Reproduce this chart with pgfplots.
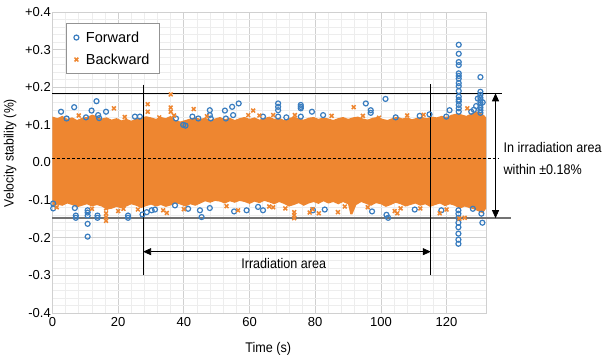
\documentclass[border=0pt]{standalone}
\usepackage{pgfplots}
\pgfplotsset{compat=1.18}
\usetikzlibrary{arrows.meta}
\usepackage{fontspec}
\setmainfont{Liberation Sans}
\newfontfamily\cond[FakeStretch=0.9]{Liberation Sans}
\definecolor{fwd}{HTML}{3A7DBF}
\definecolor{bwd}{HTML}{EE8630}
\definecolor{majgrid}{HTML}{D0D0D0}
\definecolor{mingrid}{HTML}{EDEDED}
\begin{document}
\begin{tikzpicture}
\begin{axis}[
  at={(0,0)}, anchor=south west,
  scale only axis, width=433.5pt, height=301pt,
  xmin=0, xmax=132, ymin=-0.4, ymax=0.4,
  xtick={0,20,40,60,80,100,120},
  ytick={-0.4,-0.3,-0.2,-0.1,0,0.1,0.2,0.3,0.4},
  yticklabels={-0.4,-0.3,-0.2,-0.1,0.0,+0.1,+0.2,+0.3,+0.4},
  minor x tick num=4, minor y tick num=4,
  grid=both,
  major grid style={majgrid, line width=0.8pt},
  minor grid style={mingrid, line width=0.6pt},
  axis line style={majgrid, line width=0.8pt},
  major tick length=0pt, minor tick length=0pt,
  tick label style={font=\fontsize{13}{15}\selectfont},
  /pgf/number format/assume math mode=true,
  yticklabel style={inner xsep=1.5pt},
  xticklabel style={inner ysep=4pt},
  clip=false,
  legend style={at={(0.03,0.963)}, anchor=north west, draw=gray!85,
    line width=0.8pt, font=\fontsize{14.5}{17}\selectfont,
    row sep=6pt, inner xsep=8pt, inner ysep=6pt, column sep=5pt},
  legend cell align=left,
  legend image code/.code={\draw[#1] plot coordinates {(0pt,0pt)};},
]
% Forward (blue circles)
\addplot[only marks, mark=o, mark size=2.5pt, draw=fwd, line width=1.2pt] coordinates {
(2.6,0.135) (4.3,0.117) (6.6,0.147) (10.2,0.12) (11.9,0.138) (13.4,0.163) (13.9,0.126) (14.2,0.118) (16.3,0.135)
(25.1,0.122) (26.6,0.122) (37.6,0.117) (39.8,0.1) (40.5,0.098) (42.6,0.122) (44.4,0.117) (47.9,0.139) (47.9,0.126)
(48.2,0.117) (52.5,0.138) (52.8,0.117) (54.7,0.148) (55,0.126) (56.7,0.157) (64.1,0.122) (68.7,0.157) (68.7,0.148)
(68.7,0.139) (68.7,0.122) (71.2,0.12) (75.6,0.153) (75.6,0.148) (75.6,0.144) (75.6,0.122) (79,0.135) (82.4,0.126)
(95.4,0.157) (96.9,0.139) (96.9,0.132) (101.4,0.169) (104.5,0.12) (111.8,0.124) (114.8,0.128) (119.9,0.122) (120.9,0.139)
(123.7,0.313) (123.7,0.289) (123.7,0.267) (123.7,0.259) (123.7,0.237) (123.7,0.23) (123.7,0.223) (123.7,0.211)
(123.7,0.203) (123.7,0.19) (123.7,0.175) (123.7,0.167) (123.7,0.162) (123.7,0.153) (123.7,0.144) (123.7,0.135)
(130.3,0.227) (130.3,0.188) (130.3,0.18) (130.3,0.172) (130.3,0.166) (130.3,0.159) (130.3,0.153) (130.3,0.146)
(130.3,0.139) (130.3,0.132) (129.5,0.17) (129,0.15) (131,0.16) (128.3,0.14) (127.5,0.135)
(0.2,-0.109) (0.2,-0.122) (6.8,-0.121) (7.1,-0.141) (7.1,-0.147) (10.7,-0.127) (10.7,-0.133) (10.7,-0.141)
(10.7,-0.163) (10.7,-0.197) (13.7,-0.141) (13.7,-0.147) (23,-0.141) (23,-0.147) (27.4,-0.138) (28.7,-0.132)
(30.2,-0.127) (31.2,-0.125) (37.3,-0.114) (41.3,-0.123) (44.9,-0.127) (45.4,-0.145) (47.9,-0.121) (55.3,-0.13)
(59.1,-0.127) (62.6,-0.118) (64.1,-0.127) (79.3,-0.127) (82.9,-0.125) (97.3,-0.13) (101.7,-0.139) (102.2,-0.147)
(110.3,-0.125) (118.4,-0.127) (123.6,-0.127) (123.6,-0.136) (123.6,-0.147) (123.6,-0.16) (123.6,-0.172)
(123.6,-0.189) (123.6,-0.205) (123.6,-0.216) (128,-0.123) (130.6,-0.136) (130.9,-0.16)
};
\addlegendentry{Forward}
% dense core of both series
\addplot[draw=none, fill=bwd, forget plot] coordinates {
(0,0.122) (1.5,0.118) (3,0.124) (4.5,0.116) (6,0.12) (7.5,0.113) (9,0.119) (10.5,0.121) (12,0.127) (13.5,0.124)
(15,0.117) (16.5,0.12) (18,0.114) (19.5,0.118) (21,0.112) (22.5,0.116) (24,0.111) (25.5,0.117) (27,0.119)
(28.5,0.123) (30,0.12) (31.5,0.116) (33,0.121) (34.5,0.118) (36,0.124) (37.5,0.112) (39,0.109) (40.5,0.113)
(42,0.117) (43.5,0.12) (45,0.116) (46.5,0.119) (48,0.113) (49.5,0.117) (51,0.121) (52.5,0.115) (54,0.119)
(55.5,0.113) (57,0.118) (58.5,0.121) (60,0.116) (61.5,0.12) (63,0.114) (64.5,0.118) (66,0.122) (67.5,0.116)
(69,0.119) (70.5,0.113) (72,0.118) (73.5,0.122) (75,0.117) (76.5,0.114) (78,0.119) (79.5,0.121) (81,0.116)
(82.5,0.12) (84,0.117) (85.5,0.113) (87,0.118) (88.5,0.121) (90,0.116) (91.5,0.12) (93,0.122) (94.5,0.117)
(96,0.114) (97.5,0.119) (99,0.121) (100.5,0.116) (102,0.113) (103.5,0.118) (105,0.122) (106.5,0.117) (108,0.12)
(109.5,0.115) (111,0.119) (112.5,0.121) (114,0.118) (115.5,0.122) (117,0.12) (118.5,0.124) (120,0.121)
(121.5,0.127) (123,0.13) (124.5,0.128) (126,0.124) (127.5,0.13) (129,0.136) (130.5,0.132) (131.5,0.125) (132,0.12)
(132,-0.123) (131,-0.135) (130,-0.131) (128.5,-0.125) (127,-0.121) (125.5,-0.117) (124,-0.123) (122.5,-0.115)
(121,-0.111) (119.5,-0.116) (118,-0.109) (116.5,-0.113) (115,-0.118) (113.5,-0.111) (112,-0.115) (110.5,-0.109)
(109,-0.113) (107.5,-0.117) (106,-0.111) (104.5,-0.107) (103,-0.113) (101.5,-0.118) (100,-0.111) (98.5,-0.108)
(97,-0.115) (95.5,-0.11) (94,-0.105) (92.5,-0.113) (91.3,-0.138) (90.7,-0.138) (90,-0.111) (88.5,-0.105) (87,-0.111)
(85.5,-0.105) (84,-0.109) (82.5,-0.103) (81,-0.11) (79.5,-0.105) (78,-0.109) (76.5,-0.115) (75,-0.108) (73.5,-0.113)
(72,-0.117) (70.5,-0.11) (69,-0.105) (67.5,-0.111) (66,-0.106) (64.5,-0.102) (63,-0.108) (61.5,-0.104) (60,-0.11)
(58.5,-0.105) (57,-0.102) (55.5,-0.107) (54,-0.103) (52.5,-0.109) (51,-0.104) (49.5,-0.102) (48,-0.107) (46.5,-0.103)
(45,-0.109) (43.5,-0.115) (42,-0.111) (40.5,-0.117) (39,-0.112) (37.5,-0.108) (36,-0.114) (34.5,-0.118) (33,-0.113)
(31.5,-0.117) (30,-0.112) (28.5,-0.116) (27,-0.121) (25.5,-0.115) (24,-0.111) (22.5,-0.117) (21,-0.122) (19.5,-0.118)
(18,-0.123) (16.5,-0.125) (15,-0.117) (13.5,-0.113) (12,-0.117) (10.5,-0.111) (9,-0.115) (7.5,-0.119) (6,-0.113)
(4.5,-0.109) (3,-0.115) (1.5,-0.112) (0,-0.117)
} -- cycle;
% Backward (orange crosses)
\addplot[only marks, mark=x, mark size=2.7pt, draw=bwd, line width=1.5pt] coordinates {
(18.7,0.144) (29,0.155) (29,0.135) (32.5,0.12) (36,0.181) (36,0.146) (36,0.135) (37,0.125) (43,0.142)
(59.6,0.126) (61.1,0.138) (67.2,0.126) (73.8,0.126) (91.7,0.147) (94.5,0.124) (99.4,0.119) (126.3,0.144)
(8,0.125) (22,0.121) (47,0.123) (63,0.125) (85,0.124) (108,0.125) (113,0.127)
(1.3,-0.119) (16.3,-0.122) (16.3,-0.135) (16.3,-0.145) (16.3,-0.155) (20,-0.129) (21.6,-0.123) (33.7,-0.127)
(34.8,-0.134) (56.5,-0.127) (67.2,-0.119) (70.9,-0.122) (73.6,-0.132) (73.6,-0.14) (73.6,-0.148) (78.3,-0.133)
(79.2,-0.124) (81.1,-0.135) (86.9,-0.132) (104.2,-0.129) (105,-0.135) (106,-0.122) (117.9,-0.135) (123.9,-0.149)
(125.5,-0.147) (12,-0.123) (26,-0.125) (40,-0.124) (53,-0.116) (66,-0.117) (89,-0.117) (96,-0.119) (112,-0.122)
(120,-0.125)
};
\addlegendentry{Backward}
% annotations
\draw[black, line width=0.8pt] (axis cs:0,0.184) -- (axis cs:137,0.184);
\draw[black!55, line width=1.4pt] (axis cs:0,-0.148) -- (axis cs:139.5,-0.148);
\draw[black, line width=0.8pt, dash pattern=on 3pt off 2pt] (axis cs:0,0.011) -- (axis cs:136,0.011);
\draw[black, line width=0.8pt] (axis cs:27.6,0.207) -- (axis cs:27.6,-0.299);
\draw[black, line width=0.8pt] (axis cs:115.2,0.208) -- (axis cs:115.2,-0.298);
\draw[black, line width=0.8pt, {Triangle[length=8pt,width=7pt]}-{Triangle[length=8pt,width=7pt]}]
  (axis cs:27.6,-0.237) -- (axis cs:115.2,-0.237);
\draw[black, line width=0.8pt, {Triangle[length=8pt,width=7pt]}-{Triangle[length=8pt,width=7pt]}]
  (axis cs:134.9,0.184) -- (axis cs:134.9,-0.148);
\node[font=\cond\fontsize{14}{16}\selectfont] at (axis cs:70.4,-0.268) {Irradiation area};
\node[anchor=west, inner xsep=0pt, font=\cond\fontsize{14}{16}\selectfont] at (axis cs:137.3,0.041) {In irradiation area};
\node[anchor=west, inner xsep=0pt, font=\cond\fontsize{14}{16}\selectfont] at (axis cs:137.3,-0.018) {within ±0.18\%};
\node[rotate=90, font=\cond\fontsize{13.5}{16}\selectfont] at (axis cs:-12.9,0.025) {Velocity stability (\%)};
\node[font=\cond\fontsize{14}{16}\selectfont] at (axis cs:65.7,-0.495) {Time (s)};
\end{axis}
\path (-52.5pt,-47pt) rectangle (554.5pt,313pt);
\end{tikzpicture}
\end{document}
